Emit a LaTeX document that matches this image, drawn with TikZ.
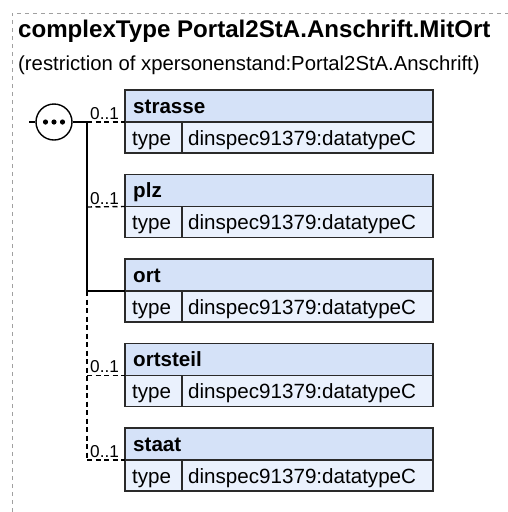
\documentclass[tikz,border=0pt]{standalone}
\usepackage{fontspec}
\setmainfont{Liberation Sans}
\usetikzlibrary{calc}
\definecolor{hdrfill}{HTML}{D5E2F8}
\definecolor{typfill}{HTML}{EAF1FD}
\definecolor{frm}{HTML}{A0A0A0}
\definecolor{bord}{HTML}{2A2A2A}
\tikzset{
  hdrbox/.style={draw=bord, line width=1.5pt, fill=hdrfill},
  typbox/.style={draw=bord, line width=1.5pt, fill=typfill},
  hdrtxt/.style={anchor=base west, inner sep=0pt, font=\fontsize{20.6}{24}\selectfont\bfseries},
  typtxt/.style={anchor=base west, inner sep=0pt, font=\fontsize{20.6}{24}\selectfont},
  occ/.style={anchor=base west, inner sep=0pt, font=\fontsize{17.2}{20}\selectfont},
  conn/.style={draw=black, line width=1.4pt},
  optconn/.style={draw=black, line width=1.4pt, dash pattern=on 5pt off 3.5pt},
}
\begin{document}
\begin{tikzpicture}[x=1pt,y=-1pt]
\useasboundingbox (0,0) rectangle (508,512);
% frame
\draw[frm, line width=0.8pt, dash pattern=on 4pt off 4pt] (12,512) -- (12,13) -- (508,13);
% title
\node[anchor=base west, inner sep=0pt, font=\fontsize{24.1}{28}\selectfont\bfseries] (title) at (18,37) {complexType Portal2StA.Anschrift.MitOrt};
\node[anchor=base west, inner sep=0pt, font=\fontsize{20.3}{24}\selectfont] (sub) at (18,70.5) {(restriction of xpersonenstand:Portal2StA.Anschrift)};
% sequence symbol
\coordinate (inL) at (29,122);
\node[circle, draw=black, line width=1.4pt, fill=white, minimum size=36pt, inner sep=0pt] (seq) at (54,122) {};
\foreach \dx/\nm in {-8.5/d1,0/d2,8.5/d3} \fill[black] ($(seq.center)+(\dx,0)$) circle (2.6pt);
\coordinate (vx) at (87,122);
\draw[conn] (inL) -- (seq.west);
\draw[conn] (seq.east) -- (vx);
% boxes
\foreach \i/\nm/\lab in {0/strasse/strasse,1/plz/plz,2/ort/ort,3/ortsteil/ortsteil,4/staat/staat}{
  \pgfmathsetmacro{\T}{90+84.5*\i}
  \path[hdrbox] (125,\T) rectangle (433,\T+32);
  \path[typbox] (125,\T+32) rectangle (182,\T+63);
  \path[typbox] (182,\T+32) rectangle (433,\T+63);
  \coordinate (\nm) at (125,\T+32);
  \node[hdrtxt] (\nm-h) at (133,\T+23) {\lab};
  \node[typtxt] (\nm-t) at (132,\T+55) {type};
  \node[typtxt] (\nm-v) at (188,\T+55) {dinspec91379:datatypeC};
}
% vertical
\coordinate (v1) at (87,122);
\coordinate (v2) at (87,207);
\coordinate (v3) at (87,291);
\coordinate (v4) at (87,375.5);
\coordinate (v5) at (87,460);
\draw[conn] (v1) -- (v3);
\draw[optconn] (v3) -- (v5);
% connectors
\draw[optconn] (v1) -- (strasse);
\draw[optconn] (v2) -- (plz);
\draw[conn] (v3) -- (ort);
\draw[optconn] (v4) -- (ortsteil);
\draw[optconn] (v5) -- (staat);
% occurrence labels
\node[occ] (o1) at (90,119) {0..1};
\node[occ] (o2) at (90,204) {0..1};
\node[occ] (o4) at (90,372.5) {0..1};
\node[occ] (o5) at (90,457) {0..1};
\end{tikzpicture}
\end{document}
